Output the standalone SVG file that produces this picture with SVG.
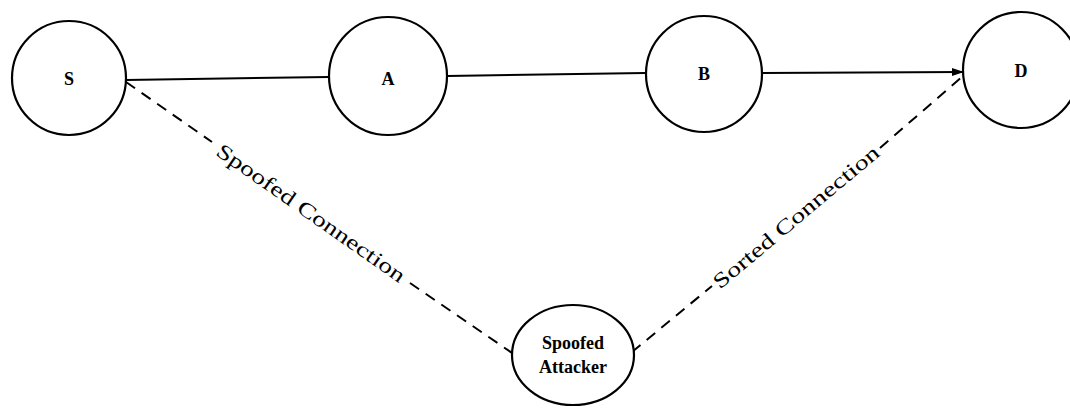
<svg xmlns="http://www.w3.org/2000/svg" width="1070" height="415" viewBox="0 0 1070 415">
<style>
.node{fill:#fff;stroke:#000;stroke-width:2.2}
.lbl{font-family:"Liberation Serif",serif;font-weight:bold;font-size:18px;fill:#000;text-anchor:middle;dominant-baseline:central}
.solid{stroke:#000;stroke-width:2;fill:none}
.dash{stroke:#000;stroke-width:2;fill:none;stroke-dasharray:11 8}
.elbl{font-family:"Liberation Serif",serif;font-size:21px;fill:#000;text-anchor:middle;dominant-baseline:central}
</style>
<defs>
<marker id="arr" markerWidth="12" markerHeight="10" refX="11" refY="5" orient="auto" markerUnits="userSpaceOnUse">
<path d="M0,1 L12,5 L0,9 z" fill="#000"/>
</marker>
</defs>
<g id="connectors">
<line class="solid" x1="126" y1="80" x2="329" y2="77"/>
<line class="solid" x1="447" y1="76" x2="645" y2="73"/>
<line class="solid" x1="762" y1="73" x2="963" y2="72" marker-end="url(#arr)"/>
<line class="dash" x1="126" y1="82" x2="212" y2="142"/>
<line class="dash" x1="410" y1="283" x2="515" y2="355"/>
<text class="elbl" transform="translate(311,213) rotate(35)" textLength="225" lengthAdjust="spacingAndGlyphs">Spoofed Connection</text>
<line class="dash" x1="632" y1="352" x2="712" y2="286"/>
<line class="dash" x1="880" y1="148" x2="963" y2="76"/>
<text class="elbl" transform="translate(796,217) rotate(-40)" textLength="210" lengthAdjust="spacingAndGlyphs">Sorted Connection</text>
</g>
<g id="S"><circle class="node" cx="69" cy="78" r="57"/><text class="lbl" x="69" y="79">S</text></g>
<g id="A"><circle class="node" cx="388" cy="76" r="59"/><text class="lbl" x="388" y="79">A</text></g>
<g id="B"><circle class="node" cx="704" cy="74" r="58"/><text class="lbl" x="704" y="74">B</text></g>
<g id="D"><circle class="node" cx="1021" cy="70" r="58"/><text class="lbl" x="1021" y="71" font-weight="normal">D</text></g>
<g id="Attacker"><ellipse class="node" cx="573" cy="355" rx="61" ry="50"/>
<text class="lbl" x="573" y="343" font-size="19">Spoofed</text>
<text class="lbl" x="573" y="367" font-size="19">Attacker</text></g>
</svg>
